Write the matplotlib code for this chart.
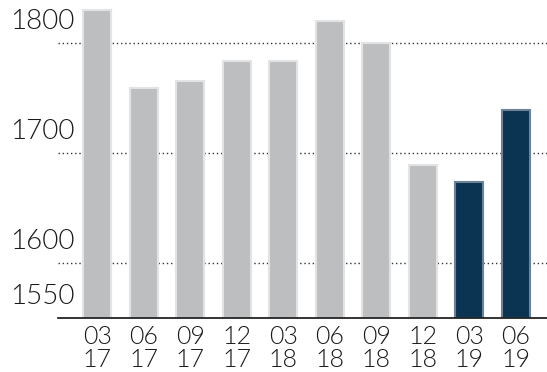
import matplotlib.pyplot as plt
import matplotlib.transforms as mtransforms

# quarterly values
quarters = ["03\n17", "06\n17", "09\n17", "12\n17", "03\n18",
            "06\n18", "09\n18", "12\n18", "03\n19", "06\n19"]
values = [1830, 1759, 1765, 1784, 1784, 1820, 1800, 1689, 1674, 1739]
highlight = [False, False, False, False, False, False, False, False, True, True]

y_ticks = [1550, 1600, 1700, 1800]
grid_lines = [1600, 1700, 1800]

plt.rcParams['font.family'] = ['Lato', 'DejaVu Sans']

fig = plt.figure(figsize=(5.47, 3.72), dpi=100)
ax = fig.add_axes([0.106, 0.145, 0.894, 0.855])

gray, gray_edge = '#bdbec0', '#e2e3e4'
navy, navy_edge = '#0b3352', '#6d8296'

x = list(range(len(values)))
colors = [navy if h else gray for h in highlight]
edges = [navy_edge if h else gray_edge for h in highlight]
ax.bar(x, [v - 1550 for v in values], bottom=1550, width=0.6,
       color=colors, edgecolor=edges, linewidth=1.5, zorder=2)

for g in grid_lines:
    ax.axhline(g, color='#333333', linewidth=1, linestyle=(0, (1, 2)), zorder=1)

ax.set_xlim(-0.84, 9.67)
ax.set_ylim(1550, 1839)

for s in ['top', 'right', 'left']:
    ax.spines[s].set_visible(False)
ax.spines['bottom'].set_color('#111111')
ax.spines['bottom'].set_linewidth(1.2)

ax.set_yticks([])
ax.set_xticks(x)
ax.set_xticklabels(quarters, fontsize=18, linespacing=0.95, color='#1a1a1a',
                   fontweight=300)
ax.tick_params(axis='x', length=0, pad=5)

# y labels sit above their gridlines, left aligned
trans = mtransforms.blended_transform_factory(ax.transAxes, ax.transData)
offset = mtransforms.ScaledTranslation(0, 9 / 100, fig.dpi_scale_trans)
for t in y_ticks:
    ax.text(-0.098, t, str(t), transform=trans + offset, ha='left', va='bottom',
            fontsize=20, color='#1a1a1a', fontweight=300)

fig.savefig('out.png', dpi=100)
